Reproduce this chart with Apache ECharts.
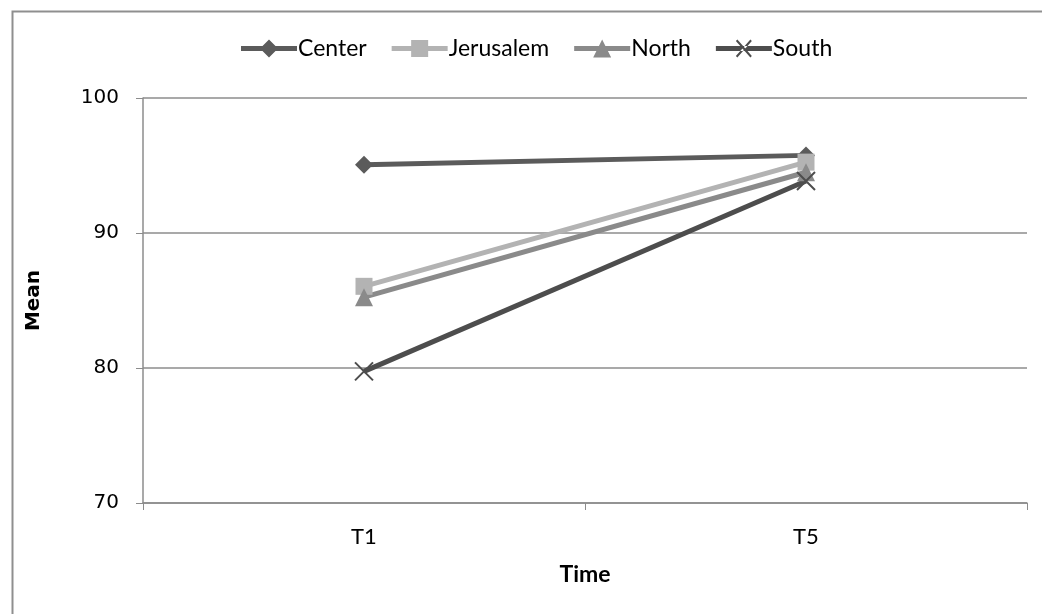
<!DOCTYPE html>
<html><head><meta charset="utf-8">
<script src="https://cdn.jsdelivr.net/npm/echarts@6/dist/echarts.min.js"></script>
<style>html,body{margin:0;padding:0;background:#fff}#c{width:1042px;height:614px}</style>
</head><body><div id="c"></div>
<script>
const categories = ['T1', 'T5'];
const seriesNames = ['Center', 'Jerusalem', 'North', 'South'];
const center = [95.05, 95.75];
const jerusalem = [86.05, 95.25];
const north = [85.25, 94.5];
const south = [79.75, 93.85];
const yTicks = [70, 80, 90, 100];

const colors = ['#5b5b5b', '#b3b3b3', '#8a8a8a', '#4d4d4d'];
const symbols = ['diamond', 'rect', 'triangle', 'path://M0,0 L10,10 M10,0 L0,10'];
const symbolSizes = [18, 17, 18, 18];
const values = [center, jerusalem, north, south];

const LINE = 'M0,6.5 L56,6.5 L56,11.5 L0,11.5 Z ';
const legendIcons = [
  'path://' + LINE + 'M28,0 L37,9 L28,18 L19,9 Z',
  'path://' + LINE + 'M19.5,0.5 L36.5,0.5 L36.5,17.5 L19.5,17.5 Z M28,0 L28.1,0 Z M28,18 L28.1,18 Z',
  'path://' + LINE + 'M28,0 L37,18 L19,18 Z',
  'path://' + LINE + 'M20,1.5 L21.5,0 L36,16.5 L34.5,18 Z M36,1.5 L34.5,0 L20,16.5 L21.5,18 Z'
];

const chart = echarts.init(document.getElementById('c'));
const labelFont = 'Lato, sans-serif';
const numFont = 'DejaVu Sans, sans-serif';
chart.setOption({
  animation: false,
  graphic: [{type: 'rect', shape: {x: 12.5, y: 11.5, width: 1040, height: 620}, style: {fill: 'none', stroke: '#8f8f8f', lineWidth: 2}}],
  legend: {
    top: 32, left: 236, itemWidth: 56, itemHeight: 18, itemGap: 25,
    textStyle: {fontFamily: labelFont, fontSize: 23, color: '#000', padding: [0, 0, 0, -4]},
    data: seriesNames.map((n, i) => ({name: n, icon: legendIcons[i], itemStyle: {color: colors[i], borderWidth: 0}}))
  },
  grid: {left: 143, right: 15, top: 98, bottom: 111, containLabel: false},
  xAxis: {
    type: 'category', data: categories, boundaryGap: true,
    name: 'Time', nameLocation: 'middle', nameGap: 60,
    nameTextStyle: {fontFamily: labelFont, fontSize: 23, fontWeight: 'bold', color: '#000'},
    axisLine: {lineStyle: {color: '#8c8c8c', width: 1.5}},
    axisTick: {show: true, length: 7, lineStyle: {color: '#8c8c8c'}},
    axisLabel: {fontFamily: labelFont, fontSize: 22, color: '#000', margin: 23}
  },
  yAxis: {
    type: 'value', min: 70, max: 100, interval: 10,
    name: 'Mean', nameLocation: 'middle', nameGap: 99, nameRotate: 90,
    nameTextStyle: {fontFamily: numFont, fontSize: 20, fontWeight: 'bold', color: '#000'},
    axisLine: {show: true, lineStyle: {color: '#8c8c8c', width: 1.5}},
    axisTick: {show: true, length: 7, lineStyle: {color: '#8c8c8c'}},
    axisLabel: {fontFamily: numFont, fontSize: 20, color: '#000', margin: 24,
      formatter: v => yTicks.includes(v) ? String(v) : ''},
    splitLine: {lineStyle: {color: '#8c8c8c', width: 1.5}}
  },
  series: seriesNames.map((n, i) => ({
    name: n, type: 'line', data: values[i],
    color: colors[i],
    symbol: symbols[i], symbolSize: symbolSizes[i],
    lineStyle: {width: 5, color: colors[i]},
    itemStyle: i === 3 ? {color: 'none', borderColor: colors[i], borderWidth: 2} : {color: colors[i]}
  }))
});
</script></body></html>
